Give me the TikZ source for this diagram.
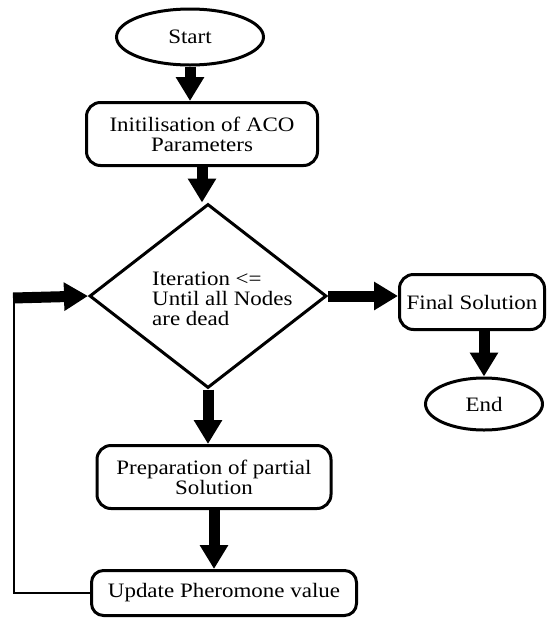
\documentclass[tikz,border=0pt]{standalone}
\usepackage{fontspec}
\setmainfont{Liberation Serif}[FakeStretch=1.12]
\usetikzlibrary{shapes.geometric,arrows.meta}
\begin{document}
\begin{tikzpicture}[x=1pt,y=-1pt,
  every node/.style={font=\fontsize{20.5}{20}\selectfont},
  term/.style={draw,ellipse,line width=3pt,inner sep=0pt},
  proc/.style={draw,rectangle,rounded corners=14pt,line width=3pt,inner sep=0pt,align=center},
  decision/.style={draw,diamond,line width=3pt,inner sep=0pt},
  bigarrow/.style={line width=11pt,-{Triangle[length=24pt,width=27pt]}},
  thinline/.style={line width=2pt}]
\useasboundingbox (0,0) rectangle (547,619);
\node[term,minimum width=147pt,minimum height=56pt] (start) at (190,37) {Start};
\node[proc,minimum width=231pt,minimum height=63pt] (init) at (202,134) {Initilisation of ACO\\Parameters};
\node[decision,minimum width=237pt,minimum height=184pt] (dia) at (208,296) {};
\node[anchor=west,align=left,inner sep=0pt] (diatext) at (152,299) {Iteration <=\\Until all Nodes\\are dead};
\node[proc,minimum width=145pt,minimum height=55pt] (final) at (472,302) {Final Solution};
\node[term,minimum width=117pt,minimum height=52pt] (end) at (484,404) {End};
\node[proc,minimum width=234pt,minimum height=63pt] (prep) at (214,477) {Preparation of partial\\Solution};
\node[proc,rounded corners=12pt,minimum width=265pt,minimum height=45pt] (update) at (224,593) {Update Pheromone value};
\coordinate (fb) at (14,298);
\draw[bigarrow] (start.south) -- (start.south |- init.north);
\draw[bigarrow] (init.south) -- (init.south |- dia.north);
\draw[bigarrow] (dia.south) -- (dia.south |- prep.north);
\draw[bigarrow] (prep.south) -- (prep.south |- update.north);
\draw[bigarrow] (dia.east) -- (dia.east -| final.west);
\draw[bigarrow] (end.north |- final.south) -- (end.north);
\draw[thinline] (update.west) -| (fb);
\draw[bigarrow] ([xshift=-1pt]fb) -- (dia.west);
\end{tikzpicture}
\end{document}
